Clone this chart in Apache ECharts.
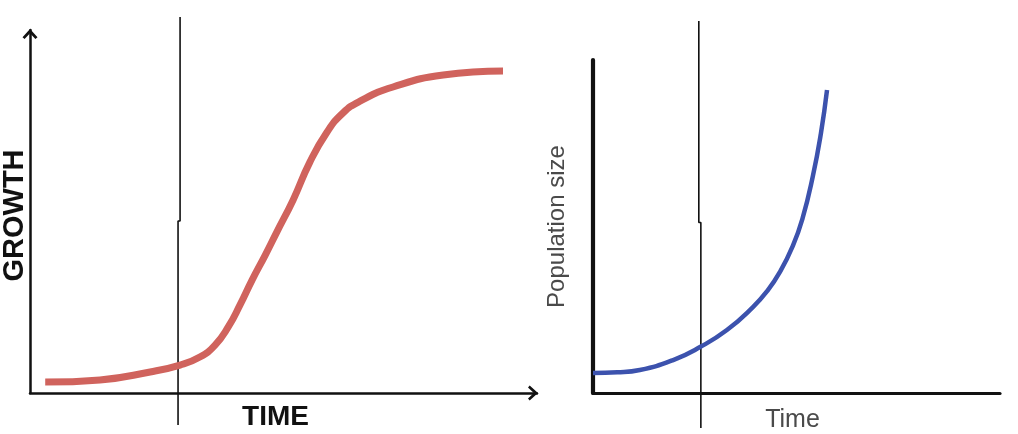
<!DOCTYPE html>
<html>
<head>
<meta charset="utf-8">
<script src="https://cdn.jsdelivr.net/npm/echarts@6/dist/echarts.min.js"></script>
<style>html,body{margin:0;padding:0;background:#fff;}#c{width:1018px;height:434px;}</style>
</head>
<body>
<div id="c"></div>
<script>
// Left chart: logistic (S-shaped) growth
var leftX = [3.0, 13.8, 23.7, 29.6, 33.5, 36.5, 39.1, 41.4, 43.8, 46.4, 48.7, 51.9, 55.2, 58.6, 61.7, 65.1, 71.6, 81.5, 93.3];
var leftY = [3.0, 3.6, 5.8, 7.7, 9.9, 13.2, 18.2, 24.2, 31.1, 38.0, 44.4, 53.2, 63.6, 71.9, 77.1, 80.4, 84.3, 87.6, 88.7];
// Right chart: exponential (J-shaped) growth
var rightX = [0, 6, 11.5, 19.7, 26.3, 32.9, 39.3, 42.8, 45.9, 49.1, 51.5, 54, 56, 57.5];
var rightY = [6.0, 6.2, 6.9, 9.9, 13.8, 18.9, 25.8, 30.6, 36.3, 44.2, 52.5, 65.0, 78.0, 91.0];
// Vertical marker lines (x position in each chart, with small jog)
var leftMarkX = [29.6, 29.6, 29.2, 29.2];
var leftMarkY = [1, 0.5, 0.5, 0];
var rightMarkX = [26.0, 26.0, 26.5, 26.5];
var rightMarkY = [1, 0.505, 0.505, 0];

var labels = { leftX: 'TIME', leftY: 'GROWTH', rightX: 'Time', rightY: 'Population size' };

function pairs(xs, ys) { return xs.map(function (x, i) { return [x, ys[i]]; }); }

var chevron = 'path://M0,10 L9,0 L18,10 L15.5,12 L9,5 L2.5,12 Z';

var chart = echarts.init(document.getElementById('c'), null, { renderer: 'canvas' });
chart.setOption({
  animation: false,
  backgroundColor: '#ffffff',
  grid: [
    { left: 30, right: 481, top: 30, bottom: 41, outerBoundsMode: 'none', containLabel: false },
    { left: 593, right: 18, top: 60, bottom: 41, outerBoundsMode: 'none', containLabel: false },
    { left: 30, right: 481, top: 17, bottom: 9, outerBoundsMode: 'none', containLabel: false },
    { left: 593, right: 18, top: 21, bottom: 6, outerBoundsMode: 'none', containLabel: false }
  ],
  xAxis: [
    { gridIndex: 0, type: 'value', min: 0, max: 100,
      name: labels.leftX, nameLocation: 'middle', nameGap: 10,
      nameTextStyle: { fontFamily: 'Liberation Sans', fontWeight: 'bold', fontSize: 28, color: '#111', padding: [0, 16, 0, 0] },
      axisLine: { show: true, symbol: ['none', chevron], symbolSize: [15, 10], symbolOffset: [0, -4], lineStyle: { color: '#111', width: 2.5 } },
      axisTick: { show: false }, axisLabel: { show: false }, splitLine: { show: false } },
    { gridIndex: 1, type: 'value', min: 0, max: 100,
      name: labels.rightX, nameLocation: 'middle', nameGap: 15,
      nameTextStyle: { fontFamily: 'Liberation Sans', fontSize: 25, color: '#4a4a4a', padding: [0, 8, 0, 0] },
      axisLine: { show: true, lineStyle: { color: '#111', width: 3.2 } },
      axisTick: { show: false }, axisLabel: { show: false }, splitLine: { show: false } },
    { gridIndex: 2, type: 'value', min: 0, max: 100, show: false },
    { gridIndex: 3, type: 'value', min: 0, max: 100, show: false }
  ],
  yAxis: [
    { gridIndex: 0, type: 'value', min: 0, max: 100,
      name: labels.leftY, nameLocation: 'middle', nameGap: 1,
      nameTextStyle: { fontFamily: 'Liberation Sans', fontWeight: 'bold', fontSize: 29, color: '#111', padding: [0, 8, 0, 0] },
      axisLine: { show: true, symbol: ['none', chevron], symbolSize: [15, 10], symbolOffset: [0, -4], lineStyle: { color: '#111', width: 2.5 } },
      axisTick: { show: false }, axisLabel: { show: false }, splitLine: { show: false } },
    { gridIndex: 1, type: 'value', min: 0, max: 100,
      name: labels.rightY, nameLocation: 'middle', nameGap: 24,
      nameTextStyle: { fontFamily: 'Liberation Sans', fontSize: 24, color: '#4a4a4a' },
      axisLine: { show: true, lineStyle: { color: '#111', width: 4.2 } },
      axisTick: { show: false }, axisLabel: { show: false }, splitLine: { show: false } },
    { gridIndex: 2, type: 'value', min: 0, max: 1, show: false },
    { gridIndex: 3, type: 'value', min: 0, max: 1, show: false }
  ],
  series: [
    { type: 'line', xAxisIndex: 2, yAxisIndex: 2, data: pairs(leftMarkX, leftMarkY), showSymbol: false, silent: true,
      lineStyle: { color: '#111', width: 1.6 } },
    { type: 'line', xAxisIndex: 3, yAxisIndex: 3, data: pairs(rightMarkX, rightMarkY), showSymbol: false, silent: true,
      lineStyle: { color: '#111', width: 1.6 } },
    { type: 'line', xAxisIndex: 0, yAxisIndex: 0, data: pairs(leftX, leftY), smooth: 0.5, showSymbol: false,
      lineStyle: { color: '#d0635d', width: 7, cap: 'butt' }, z: 3 },
    { type: 'line', xAxisIndex: 1, yAxisIndex: 1, data: pairs(rightX, rightY), smooth: 0.5, showSymbol: false,
      lineStyle: { color: '#3c52ad', width: 4.5, cap: 'butt' }, z: 3 }
  ]
});
</script>
</body>
</html>
